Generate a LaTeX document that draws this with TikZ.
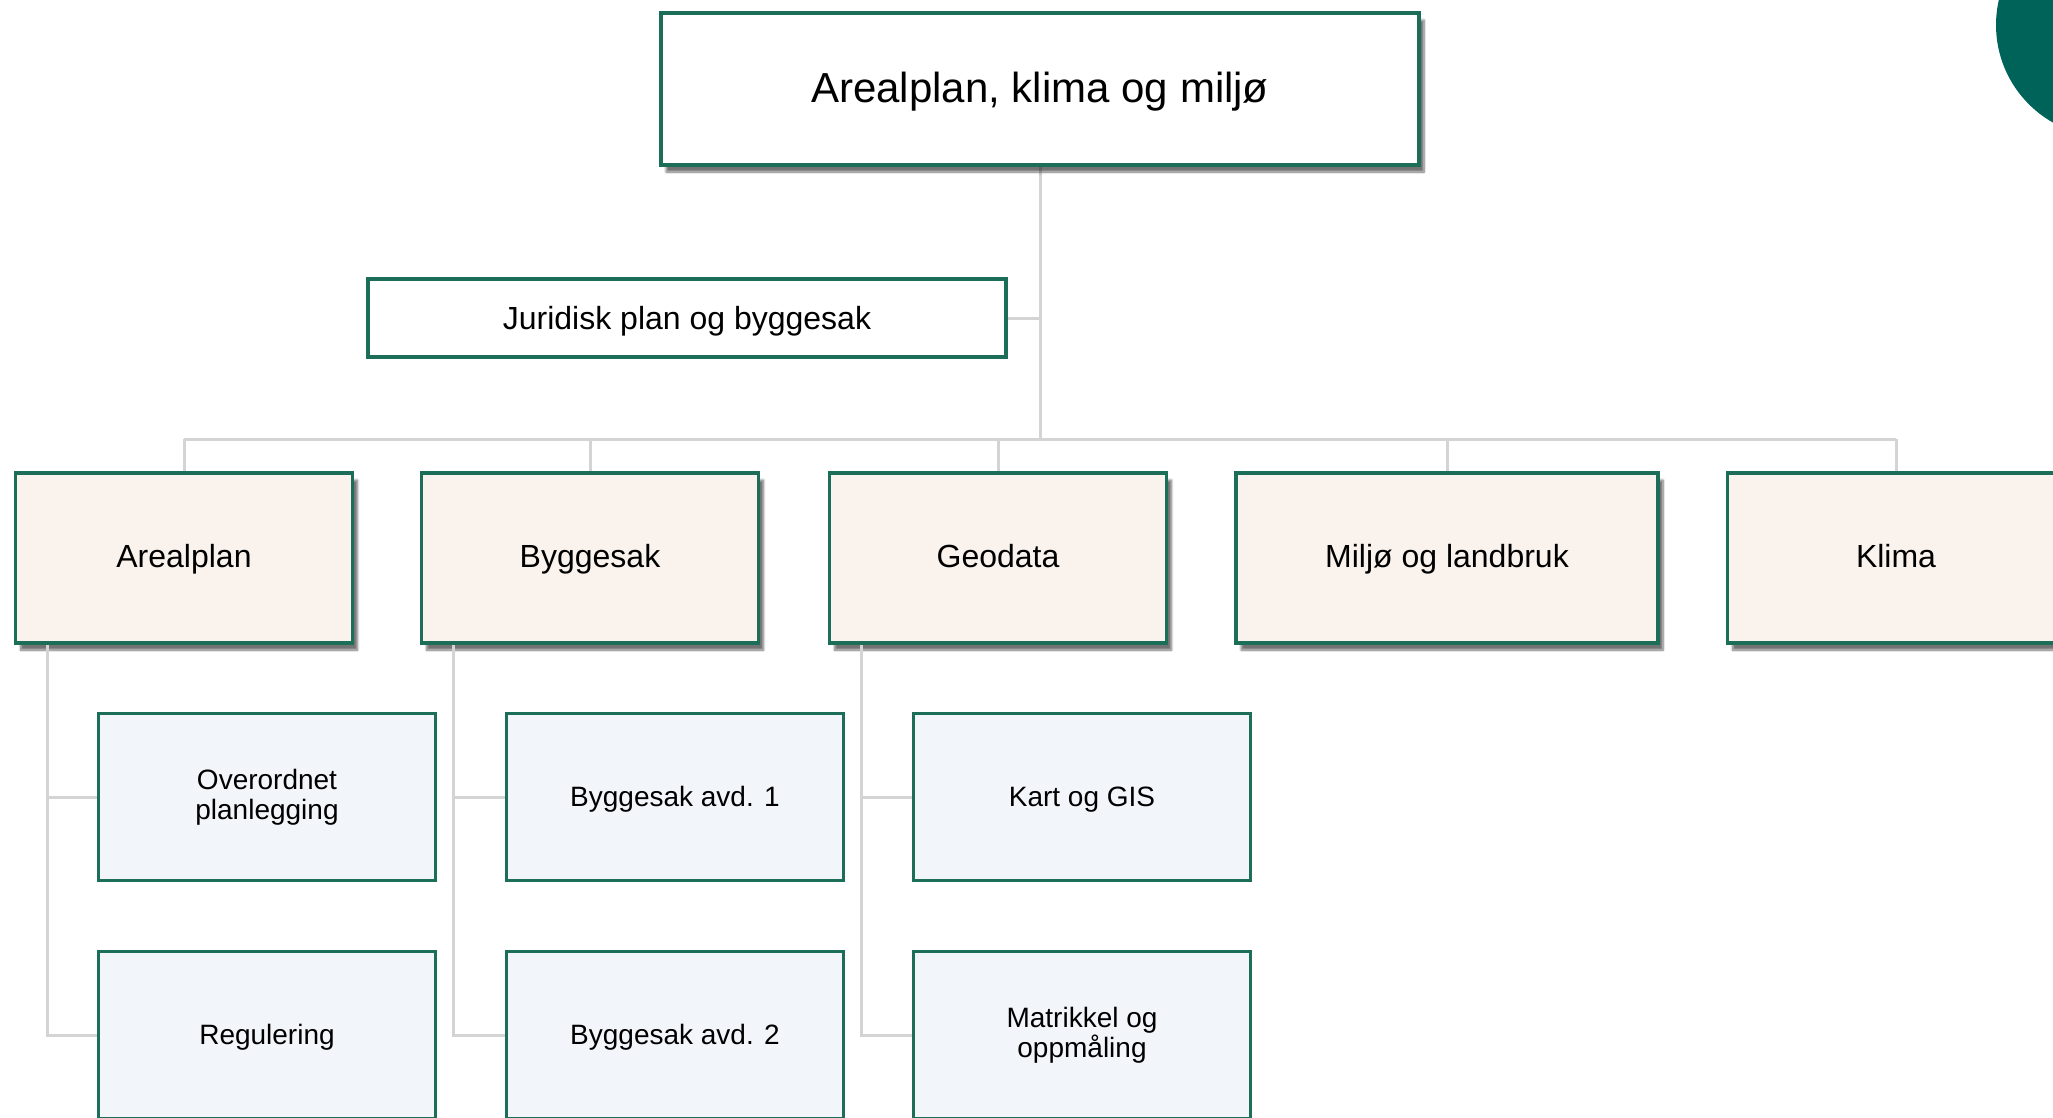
\documentclass[tikz,border=0pt]{standalone}
\usepackage{fontspec}
\setmainfont{Liberation Sans}
\usetikzlibrary{shadows.blur}
\definecolor{boxline}{HTML}{1D6E58}
\definecolor{avdfill}{HTML}{FAF2EC}
\definecolor{enhfill}{HTML}{F2F5FA}
\definecolor{linkgray}{HTML}{D4D4D4}
\definecolor{petrol}{HTML}{00635A}
\tikzset{
	skygge/.style={blur shadow={shadow xshift=5pt, shadow yshift=-7pt, shadow blur steps=8, shadow opacity=55}},
	lederbox/.style={draw=boxline, line width=3.5pt, fill=white, minimum width=758pt, minimum height=152pt, text height=36pt, text depth=9pt, font=\fontsize{42}{48}\selectfont, skygge},
	stabbox/.style={draw=boxline, line width=3.5pt, fill=white, minimum width=638pt, minimum height=78pt, text height=29pt, text depth=7pt, font=\fontsize{32}{36}\selectfont},
	avdbox/.style={draw=boxline, line width=3.5pt, fill=avdfill, minimum width=337pt, minimum height=170pt, text height=25pt, text depth=6pt, font=\fontsize{32}{36}\selectfont, skygge},
	enhbox/.style={draw=boxline, line width=2.5pt, fill=enhfill, minimum width=337pt, minimum height=167pt, align=center, font=\fontsize{28}{30}\selectfont},
	enhlinje/.style={enhbox, text height=23pt, text depth=4pt},
	link/.style={line width=3pt, color=linkgray}
}

\begin{document}
\begin{tikzpicture}[x=1pt, y=-1pt]
			%%%%% START %%%%%
			\useasboundingbox (0, 0) rectangle (2053, 1117);
			
			\fill[petrol] (2108, 25) circle (112pt);
			
			% connectors first, boxes on top
			\coordinate (bus) at (1040, 439);
			\coordinate (leder_bunn) at (1040, 165);
			\draw[link] (leder_bunn) -- (bus);
			\draw[link] (1006, 318) -- (1040, 318);
			\draw[link] (184, 439) -- (1896, 439);
			\draw[link] (184, 439) -- (184, 473);
			\draw[link] (590, 439) -- (590, 473);
			\draw[link] (998, 439) -- (998, 473);
			\draw[link] (1447, 439) -- (1447, 473);
			\draw[link] (1896, 439) -- (1896, 473);
			
			\node[lederbox] (leder) at (1040, 89) {Arealplan, klima og miljø};
			\node[stabbox] (juridisk) at (687, 318) {Juridisk plan og byggesak};
			
			\node[avdbox] (arealplan) at (184, 558) {Arealplan};
			\node[avdbox] (byggesak) at (590, 558) {Byggesak};
			\node[avdbox] (geodata) at (998, 558) {Geodata};
			\node[avdbox, minimum width=422pt] (miljo) at (1447, 558) {Miljø og landbruk};
			\node[avdbox] (klima) at (1896, 558) {Klima};
			
			\node[enhbox] (overordnet) at (267, 797) {Overordnet\\planlegging};
			\node[enhlinje] (regulering) at (267, 1035) {Regulering};
			\node[enhlinje] (bygg1) at (675, 797) {Byggesak avd. 1};
			\node[enhlinje] (bygg2) at (675, 1035) {Byggesak avd. 2};
			\node[enhlinje] (kart) at (1082, 797) {Kart og GIS};
			\node[enhbox] (matrikkel) at (1082, 1035) {Matrikkel og\\oppmåling};
			
			\coordinate (a1) at ([xshift=34pt]arealplan.south west);
			\draw[link] (a1) |- (regulering.west);
			\draw[link] (a1 |- overordnet.west) -- (overordnet.west);
			
			\coordinate (b1) at ([xshift=34pt]byggesak.south west);
			\draw[link] (b1) |- (bygg2.west);
			\draw[link] (b1 |- bygg1.west) -- (bygg1.west);
			
			\coordinate (g1) at ([xshift=34pt]geodata.south west);
			\draw[link] (g1) |- (matrikkel.west);
			\draw[link] (g1 |- kart.west) -- (kart.west);
			
			%%%%% END %%%%%
		\end{tikzpicture}
\end{document}
